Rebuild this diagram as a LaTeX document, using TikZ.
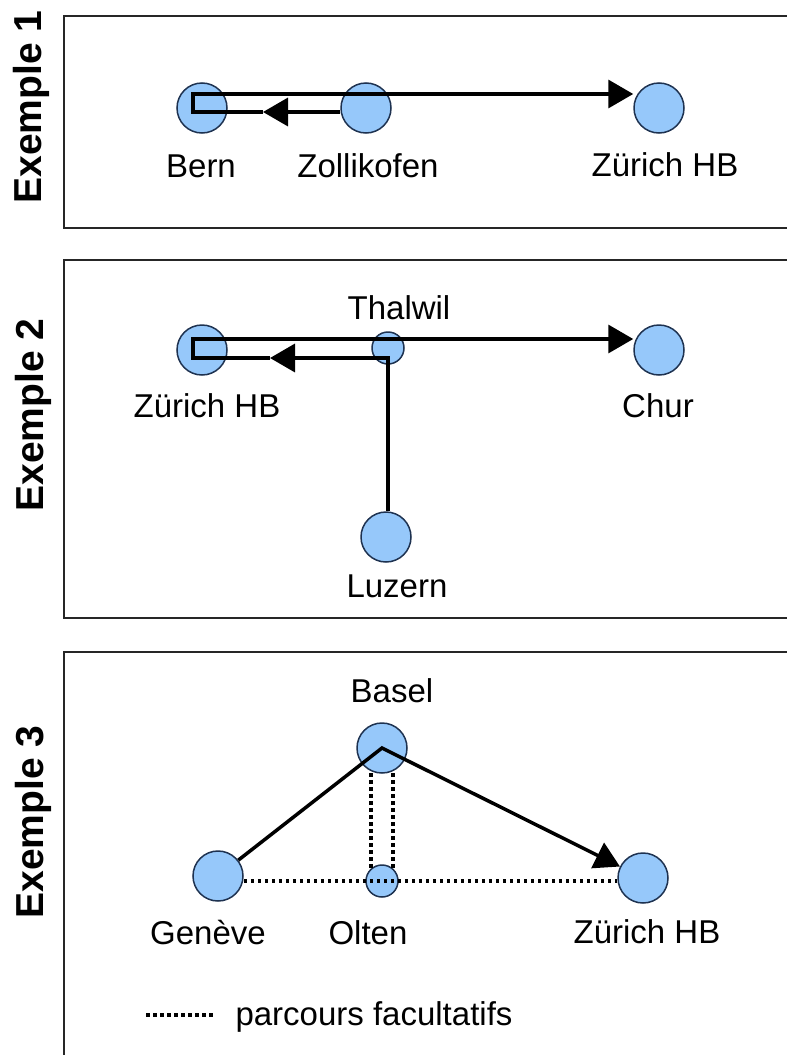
\documentclass[tikz,border=0pt]{standalone}
\usepackage{fontspec}
\setmainfont{Liberation Sans}
\usetikzlibrary{arrows.meta,calc}
\definecolor{stfill}{RGB}{150,200,250}
\definecolor{stdraw}{RGB}{30,50,80}
\begin{document}
\begin{tikzpicture}[x=1pt,y=-1pt,
 station/.style={circle,fill=stfill,draw=stdraw,line width=1.5pt,minimum size=50pt,inner sep=0pt},
 smallst/.style={station,minimum size=32pt},
 lbl/.style={font=\fontsize{33}{36}\selectfont,anchor=base,inner sep=0pt},
 side/.style={font=\bfseries\fontsize{39}{42}\selectfont,rotate=90,inner sep=0pt},
 route/.style={line width=3.5pt,line join=miter,draw=black},
 tip/.style={-{Triangle[length=25pt,width=28pt]}},
 opt/.style={line width=3.5pt,dash pattern=on 3.5pt off 3.5pt,draw=black},
 frame/.style={line width=2pt,draw=black!85}]
\useasboundingbox (0,0) rectangle (787,1055);
\clip (0,0) rectangle (787,1055);
\fill[white] (0,0) rectangle (787,1055);
% frames
\draw[frame] (64,16) rectangle (810,228);
\draw[frame] (64,260) rectangle (810,618);
\draw[frame] (64,652) rectangle (810,1075);
% side labels
\node[side] (ex1) at (31,107) {Exemple 1};
\node[side] (ex2) at (33,415) {Exemple 2};
\node[side] (ex3) at (33,822) {Exemple 3};
% Example 1
\node[station] (bern) at (202,108) {};
\node[station] (zoll) at (366,108) {};
\node[station] (zur1) at (659,108) {};
\coordinate (c1) at (193,94);
\coordinate (c2) at (193,112);
\coordinate (m1) at (263,112);
\draw[route,tip] (zoll.west |- c2) -- (m1);
\draw[route,tip] (m1) -- (c2) -- (c1) -- (c1 -| zur1.west);
\node[lbl] (bernl) at (201,177) {Bern};
\node[lbl] (zolll) at (368,177) {Zollikofen};
\node[lbl] (zur1l) at (665,176) {Zürich HB};
% Example 2
\node[station] (zur2) at (202,350) {};
\node[smallst] (thal) at (388,348) {};
\node[station] (chur) at (659,350) {};
\node[station] (luz) at (386,537) {};
\coordinate (c3) at (193,339);
\coordinate (c4) at (193,358);
\coordinate (m2) at (270,358);
\coordinate (c5) at (388,358);
\draw[route,tip] (luz.north -| c5) -- (c5) -- (m2);
\draw[route,tip] (m2) -- (c4) -- (c3) -- (c3 -| chur.west);
\node[lbl] (thall) at (399,319) {Thalwil};
\node[lbl] (zur2l) at (207,417) {Zürich HB};
\node[lbl] (churl) at (658,417) {Chur};
\node[lbl] (luzl) at (397,597) {Luzern};
% Example 3
\node[station] (bas) at (382,748) {};
\node[station] (gen) at (218,876) {};
\node[smallst] (olt) at (382,881) {};
\node[station] (zur3) at (643,878) {};
\draw[opt] (gen.east |- olt) -- (zur3.west |- olt);
\draw[opt] ($(bas.center)+(-11,25)$) -- ($(olt.center)+(-11,-12)$);
\draw[opt] ($(bas.center)+(11,25)$) -- ($(olt.center)+(11,-12)$);
\draw[route,tip] (gen) -- (bas.center) -- (zur3);
\node[lbl] (basl) at (392,702) {Basel};
\node[lbl] (genl) at (208,944) {Genève};
\node[lbl] (oltl) at (368,944) {Olten};
\node[lbl] (zur3l) at (647,943) {Zürich HB};
% legend
\coordinate (lg1) at (146,1015);
\coordinate (lg2) at (214,1015);
\draw[opt] (lg1) -- (lg2);
\node[lbl] (leg) at (374,1025) {parcours facultatifs};
\end{tikzpicture}
\end{document}
